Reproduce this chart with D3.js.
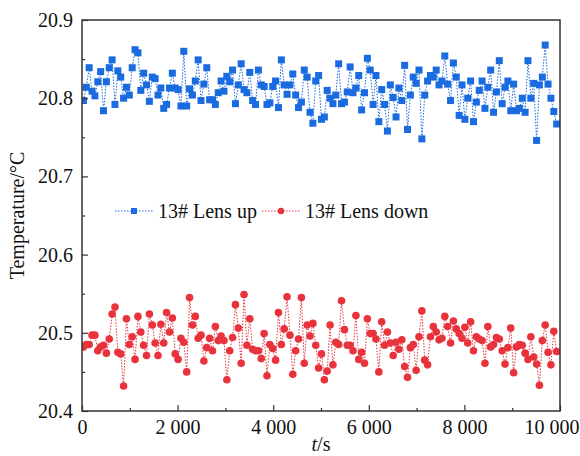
<!DOCTYPE html>
<html>
<head>
<meta charset="utf-8">
<script src="https://cdn.jsdelivr.net/npm/d3@7"></script>
<style>
  body { margin: 0; background: #fff; }
  text { font-family: "Liberation Serif", "Times New Roman", serif; }
</style>
</head>
<body>
<svg id="chart" width="580" height="456"></svg>
<script>
// sampled every 60 s
var t0 = 30, dt = 60;

var lensUp = [
  20.797, 20.814, 20.839, 20.809, 20.803, 20.821, 20.834, 20.784, 20.821, 20.839,
  20.849, 20.792, 20.835, 20.827, 20.800, 20.814, 20.804, 20.839, 20.862, 20.858,
  20.810, 20.832, 20.817, 20.796, 20.827, 20.825, 20.804, 20.813, 20.787, 20.792,
  20.813, 20.832, 20.813, 20.811, 20.790, 20.860, 20.790, 20.812, 20.804, 20.822,
  20.849, 20.797, 20.818, 20.839, 20.798, 20.798, 20.792, 20.807, 20.822, 20.809,
  20.828, 20.821, 20.836, 20.793,
  20.817, 20.844, 20.811, 20.807, 20.833, 20.797, 20.792, 20.836, 20.817, 20.815,
  20.792, 20.794, 20.815, 20.822, 20.788, 20.849, 20.817, 20.805, 20.817, 20.831,
  20.804, 20.788, 20.795, 20.836, 20.827, 20.782, 20.768, 20.822, 20.829, 20.773,
  20.776, 20.810, 20.800, 20.793, 20.804, 20.844, 20.793, 20.795, 20.808, 20.840,
  20.807, 20.813, 20.829, 20.785, 20.807, 20.851, 20.836, 20.792, 20.829, 20.770,
  20.811, 20.792, 20.758, 20.817, 20.801, 20.776,
  20.813, 20.797, 20.842, 20.760, 20.804, 20.827, 20.819, 20.836, 20.748, 20.804,
  20.822, 20.829, 20.827, 20.836, 20.817, 20.822, 20.854, 20.818, 20.797, 20.845,
  20.827, 20.778, 20.817, 20.773, 20.800, 20.822, 20.770, 20.795, 20.810, 20.822,
  20.787, 20.814, 20.836, 20.782, 20.808, 20.848, 20.793, 20.814, 20.822, 20.784,
  20.818, 20.784, 20.787, 20.800, 20.782, 20.848, 20.800, 20.819, 20.746, 20.817,
  20.827, 20.868, 20.818, 20.800, 20.783, 20.767
];

var lensDown = [
  20.482, 20.485, 20.485, 20.497, 20.497, 20.477, 20.482, 20.484, 20.474, 20.492,
  20.524, 20.533, 20.475, 20.473, 20.432, 20.518, 20.485, 20.495, 20.466, 20.521,
  20.501, 20.484, 20.471, 20.524, 20.510, 20.487, 20.471, 20.511, 20.487, 20.526,
  20.501, 20.519, 20.473, 20.466, 20.493, 20.488, 20.450, 20.545, 20.510, 20.521,
  20.493, 20.497, 20.464, 20.481, 20.493, 20.477, 20.508, 20.490, 20.496, 20.490,
  20.440, 20.477, 20.494, 20.536, 20.506,
  20.461, 20.549, 20.484, 20.518, 20.479, 20.477, 20.477, 20.467, 20.499, 20.445,
  20.485, 20.480, 20.465, 20.526, 20.485, 20.505, 20.546, 20.497, 20.447, 20.477,
  20.492, 20.545, 20.461, 20.510, 20.496, 20.512, 20.484, 20.455, 20.473, 20.440,
  20.451, 20.510, 20.459, 20.488, 20.485, 20.541, 20.504, 20.484, 20.484, 20.477,
  20.522, 20.466, 20.475, 20.461, 20.518, 20.499, 20.499, 20.492, 20.450, 20.514,
  20.484, 20.501, 20.487, 20.471, 20.488,
  20.479, 20.491, 20.457, 20.443, 20.481, 20.485, 20.452, 20.495, 20.528, 20.465,
  20.459, 20.495, 20.508, 20.501, 20.491, 20.493, 20.521, 20.508, 20.487, 20.515,
  20.505, 20.499, 20.493, 20.507, 20.487, 20.514, 20.477, 20.495, 20.492, 20.490,
  20.461, 20.508, 20.482, 20.485, 20.494, 20.492, 20.477, 20.460, 20.481, 20.506,
  20.449, 20.482, 20.485, 20.484, 20.474, 20.466, 20.495, 20.469, 20.460, 20.433,
  20.490, 20.510, 20.475, 20.459, 20.502, 20.476
];

var xTicks = [0, 2000, 4000, 6000, 8000, 10000];
var xMinor = [1000, 3000, 5000, 7000, 9000];
var yTicks = [20.4, 20.5, 20.6, 20.7, 20.8, 20.9];
var yMinor = [20.45, 20.55, 20.65, 20.75, 20.85];
var legendLabels = ["13# Lens up", "13# Lens down"];

var blue = "#1a6ae0", red = "#e8323c";

var svg = d3.select("#chart");
var mLeft = 82, mRight = 560, mTop = 20, mBottom = 411;

var x = d3.scaleLinear().domain([0, 10000]).range([mLeft, mRight]);
var y = d3.scaleLinear().domain([20.4, 20.9]).range([mBottom, mTop]);

var fmtX = function (d) { return d === 0 ? "0" : String(d).replace(/(\d)(\d{3})$/, "$1 $2"); };

// clip so markers at the edges are cut by the frame
svg.append("clipPath").attr("id", "clip")
  .append("rect").attr("x", mLeft).attr("y", mTop)
  .attr("width", mRight - mLeft).attr("height", mBottom - mTop);

var plot = svg.append("g").attr("clip-path", "url(#clip)");

function draw(values, color, shape) {
  var pts = values.map(function (v, i) { return [t0 + i * dt, v]; });
  var line = d3.line().x(function (d) { return x(d[0]); }).y(function (d) { return y(d[1]); });
  plot.append("path").datum(pts)
    .attr("d", line)
    .attr("fill", "none")
    .attr("stroke", color)
    .attr("stroke-width", 1)
    .attr("stroke-dasharray", "1.5,1.5");
  if (shape === "square") {
    plot.selectAll(null).data(pts).enter().append("rect")
      .attr("x", function (d) { return x(d[0]) - 3.5; })
      .attr("y", function (d) { return y(d[1]) - 3.5; })
      .attr("width", 7).attr("height", 7)
      .attr("fill", color);
  } else {
    plot.selectAll(null).data(pts).enter().append("circle")
      .attr("cx", function (d) { return x(d[0]); })
      .attr("cy", function (d) { return y(d[1]); })
      .attr("r", 3.8)
      .attr("fill", color);
  }
}

draw(lensUp, blue, "square");
draw(lensDown, red, "circle");

// frame
svg.append("rect")
  .attr("x", mLeft).attr("y", mTop)
  .attr("width", mRight - mLeft).attr("height", mBottom - mTop)
  .attr("fill", "none").attr("stroke", "#333").attr("stroke-width", 1.5);

// axes, ticks pointing inward
var xAxis = svg.append("g").attr("transform", "translate(0," + mBottom + ")")
  .call(d3.axisBottom(x).tickValues(xTicks).tickSize(-6).tickPadding(10).tickFormat(fmtX));
svg.append("g").attr("transform", "translate(0," + mBottom + ")")
  .call(d3.axisBottom(x).tickValues(xMinor).tickSize(-3).tickFormat(""));
var yAxis = svg.append("g").attr("transform", "translate(" + mLeft + ",0)")
  .call(d3.axisLeft(y).tickValues(yTicks).tickSize(-6).tickPadding(10).tickFormat(d3.format(".1f")));
svg.append("g").attr("transform", "translate(" + mLeft + ",0)")
  .call(d3.axisLeft(y).tickValues(yMinor).tickSize(-3).tickFormat(""));

svg.selectAll(".domain").remove();
svg.selectAll(".tick line").attr("stroke", "#333").attr("stroke-width", 1.2);
svg.selectAll(".tick text").attr("font-size", 20).attr("fill", "#111")
  .style("font-family", "'Liberation Serif', serif");
xAxis.selectAll(".tick text").attr("y", 6).attr("dy", "0.85em");
yAxis.selectAll(".tick text").attr("x", -9);
// last label sits against the page edge
xAxis.selectAll(".tick text").filter(function (d) { return d === 10000; })
  .attr("text-anchor", "end").attr("x", 19);

// axis titles
var xt = svg.append("text")
  .attr("x", (mLeft + mRight) / 2).attr("y", 451)
  .attr("text-anchor", "middle").attr("font-size", 20).attr("fill", "#111");
xt.append("tspan").attr("font-style", "italic").text("t");
xt.append("tspan").text("/s");

svg.append("text")
  .attr("transform", "translate(24," + ((mTop + mBottom) / 2) + ") rotate(-90)")
  .attr("text-anchor", "middle").attr("font-size", 20).attr("fill", "#111")
  .text("Temperature/\u00b0C");

// legend
var legend = svg.append("g");
var items = [
  { label: legendLabels[0], color: blue, shape: "square", x0: 115 },
  { label: legendLabels[1], color: red, shape: "circle", x0: 262 }
];
items.forEach(function (it) {
  var g = legend.append("g").attr("transform", "translate(" + it.x0 + ",211)");
  g.append("line").attr("x1", 0).attr("x2", 38).attr("y1", 0).attr("y2", 0)
    .attr("stroke", it.color).attr("stroke-width", 1).attr("stroke-dasharray", "1.5,1.5");
  if (it.shape === "square") {
    g.append("rect").attr("x", 16).attr("y", -3).attr("width", 6).attr("height", 6).attr("fill", it.color);
  } else {
    g.append("circle").attr("cx", 19).attr("cy", 0).attr("r", 3.2).attr("fill", it.color);
  }
  g.append("text").attr("x", 43).attr("y", 6.5)
    .attr("font-size", 20).attr("fill", "#111").text(it.label);
});
</script>
</body>
</html>
